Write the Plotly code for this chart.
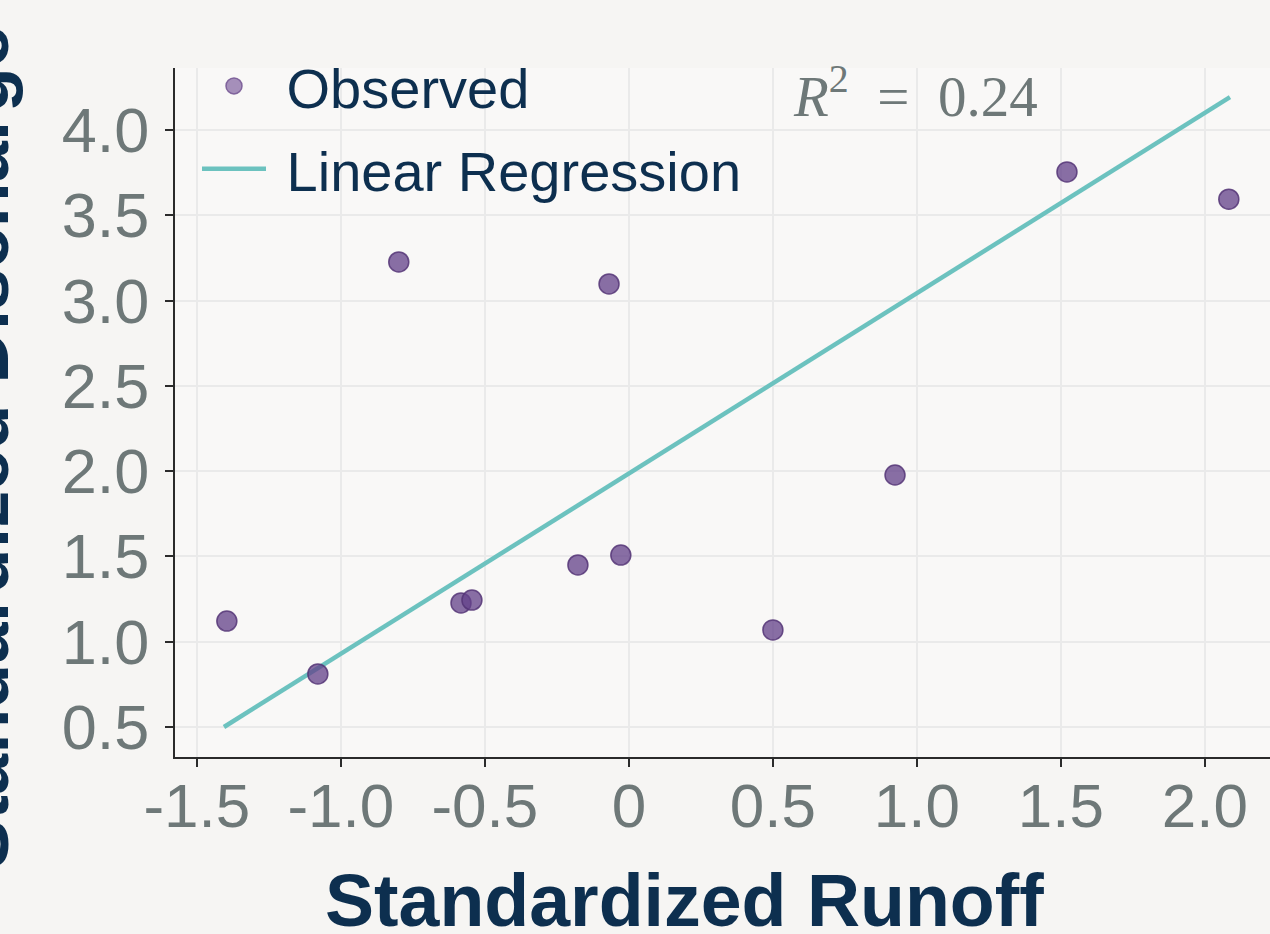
import plotly.graph_objects as go

# ---- data ----
runoff = [-1.396, -1.080, -0.799, -0.583, -0.545, -0.177, -0.069, -0.028, 0.500, 0.924, 1.521, 2.083]
discharge = [1.121, 0.811, 3.226, 1.227, 1.244, 1.450, 3.097, 1.508, 1.069, 1.977, 3.754, 3.594]

reg_slope = 1.057
reg_intercept = 1.986
reg_x = [-1.406, 2.087]
reg_y = [reg_intercept + reg_slope * v for v in reg_x]

r_squared = 0.24

x_tickvals = [-1.5, -1.0, -0.5, 0.0, 0.5, 1.0, 1.5, 2.0]
x_ticktext = ["-1.5", "-1.0", "-0.5", "0", "0.5", "1.0", "1.5", "2.0"]
y_tickvals = [0.5, 1.0, 1.5, 2.0, 2.5, 3.0, 3.5, 4.0]
y_ticktext = ["0.5", "1.0", "1.5", "2.0", "2.5", "3.0", "3.5", "4.0"]

legend_names = ["Observed", "Linear Regression"]
x_title = "Standardized Runoff"
y_title = "Standardized Discharge"

# ---- style ----
FONT = "Liberation Sans, Arial, sans-serif"
NAVY = "#0d2f4f"
TICKGREY = "#6e7878"
PURPLE_FILL = "rgba(100,66,138,0.76)"
PURPLE_EDGE = "rgba(84,52,118,0.85)"
TEAL = "#6cc2bf"

W, H = 1270, 934
ML, MR, MT, MB = 175, 0, 68, 177
PW, PH = W - ML - MR, H - MT - MB


def px_x(p):
    return (p - ML) / PW


def px_y(p):
    return (H - MB - p) / PH


fig = go.Figure()

fig.add_trace(go.Scatter(
    x=reg_x, y=reg_y, mode="lines", name=legend_names[1],
    line=dict(color=TEAL, width=4.5), showlegend=False,
))
fig.add_trace(go.Scatter(
    x=runoff, y=discharge, mode="markers", name=legend_names[0],
    marker=dict(size=20, color=PURPLE_FILL, line=dict(color=PURPLE_EDGE, width=1.5)),
    showlegend=False,
))
# legend entries
fig.add_trace(go.Scatter(
    x=[None], y=[None], mode="markers", name="\u00a0" + legend_names[0], legendgroup="a",
    marker=dict(size=18, color="rgba(150,125,175,0.85)", line=dict(color="rgba(120,90,150,0.9)", width=1.5)),
))
fig.add_trace(go.Scatter(
    x=[None], y=[None], mode="lines", name="\u00a0" + legend_names[1], legendgroup="b",
    line=dict(color=TEAL, width=4.5),
))

axis_common = dict(
    showline=True, linecolor="#2b2b2b", linewidth=2,
    ticks="outside", ticklen=8, tickwidth=2, tickcolor="#2b2b2b",
    showgrid=True, gridcolor="#eaeaea", gridwidth=1.5,
    zeroline=False,
)

fig.update_layout(
    width=W, height=H,
    margin=dict(l=ML, r=MR, t=MT, b=MB, pad=0),
    paper_bgcolor="#f6f5f3",
    plot_bgcolor="#f9f8f7",
    xaxis=dict(range=[-1.576, 2.226], tickvals=x_tickvals, ticktext=x_ticktext,
               ticklabelstandoff=-14, tickfont=dict(family=FONT, size=62, color=TICKGREY),
               **axis_common),
    yaxis=dict(range=[0.324, 4.363], tickvals=y_tickvals, ticktext=y_ticktext,
               ticklabelstandoff=3, tickfont=dict(family=FONT, size=63, color=TICKGREY),
               **axis_common),
    showlegend=True,
    legend=dict(
        x=px_x(197), y=px_y(43), xanchor="left", yanchor="top",
        bgcolor="rgba(0,0,0,0)", font=dict(family=FONT, size=56, color=NAVY),
        tracegroupgap=7, itemwidth=64,
    ),
)

fig.add_annotation(
    text=f"<i>R</i><sup>2</sup>\u2002=\u2002{r_squared:.2f}",
    xref="paper", yref="paper",
    x=px_x(791), y=px_y(92), xanchor="left", yanchor="middle", showarrow=False,
    font=dict(family="Liberation Serif, DejaVu Serif, serif", size=57, color=TICKGREY),
)
fig.add_annotation(
    text=f"<b>{x_title}</b>", xref="paper", yref="paper",
    x=px_x(684), y=px_y(900), xanchor="center", yanchor="middle", showarrow=False,
    font=dict(family=FONT, size=73.5, color=NAVY),
)
fig.add_annotation(
    text=f"<b>{y_title}</b>", xref="paper", yref="paper", textangle=-90,
    x=px_x(-18), y=px_y(448), xanchor="center", yanchor="middle", showarrow=False,
    font=dict(family=FONT, size=74, color=NAVY),
)

fig.write_html("out.html", config={"displayModeBar": False},
               post_script="document.body.style.margin='0';")
